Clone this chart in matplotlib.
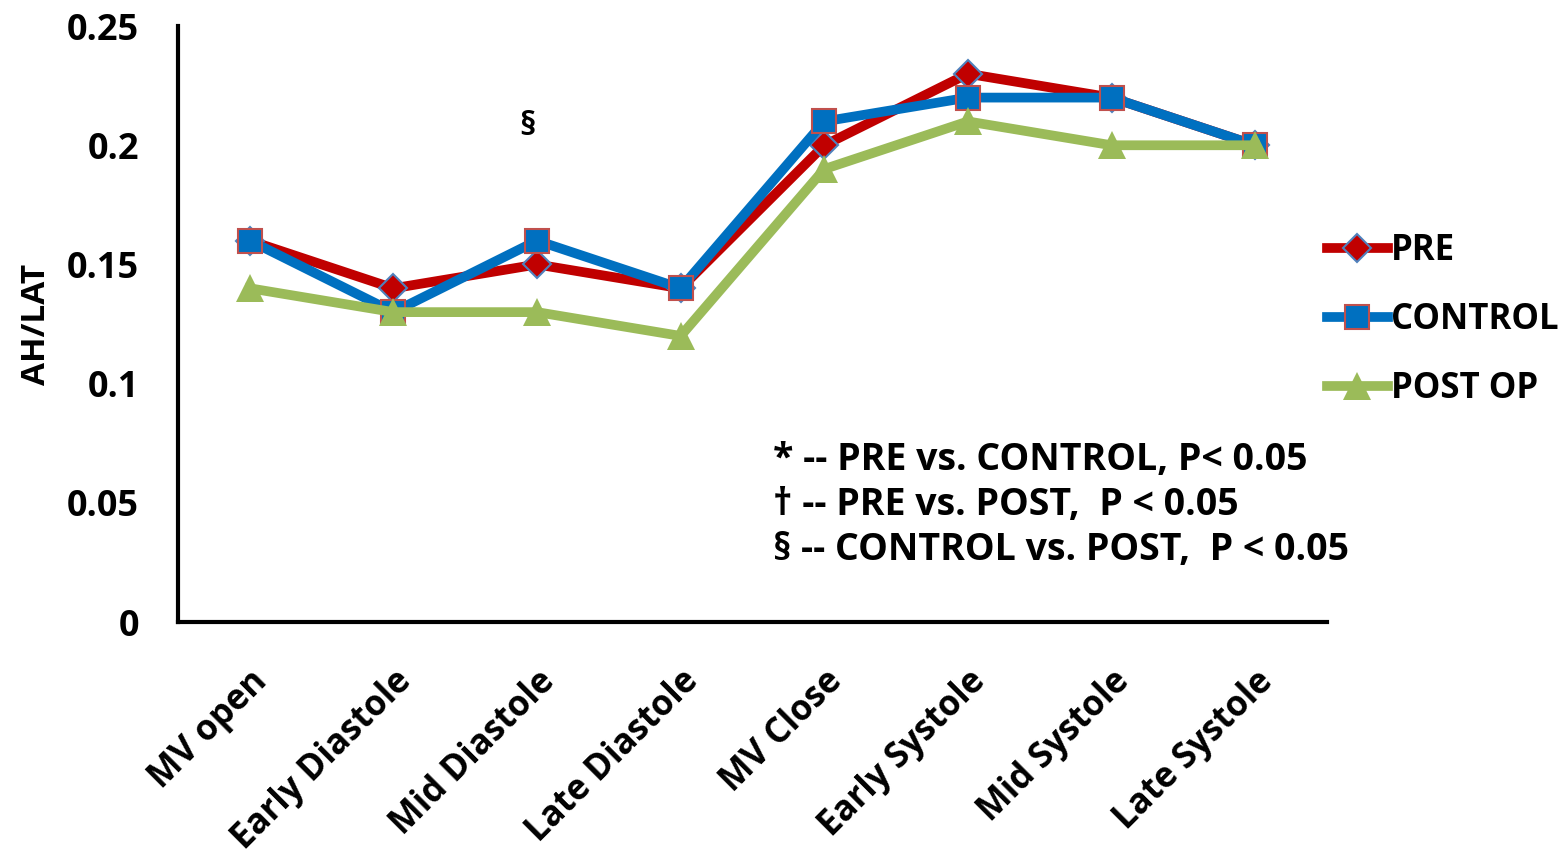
import matplotlib.pyplot as plt

plt.rcParams['font.family'] = ['Open Sans', 'DejaVu Sans']
plt.rcParams['font.weight'] = 'bold'
plt.rcParams['axes.labelweight'] = 'bold'

phases = ["MV open", "Early Diastole", "Mid Diastole", "Late Diastole",
          "MV Close", "Early Systole", "Mid Systole", "Late Systole"]
pre = [0.16, 0.14, 0.15, 0.14, 0.20, 0.23, 0.22, 0.20]
control = [0.16, 0.13, 0.16, 0.14, 0.21, 0.22, 0.22, 0.20]
post_op = [0.14, 0.13, 0.13, 0.12, 0.19, 0.21, 0.20, 0.20]
yticks = [0, 0.05, 0.1, 0.15, 0.2, 0.25]
ytick_labels = ["0", "0.05", "0.1", "0.15", "0.2", "0.25"]

fig = plt.figure(figsize=(15.67, 8.55), dpi=100)
ax = fig.add_axes([0.1136, 0.2725, 0.7332, 0.697])

x = list(range(len(phases)))
ax.plot(x, pre, color="#C00000", lw=7, marker="D", ms=14,
        mfc="#C00000", mec="#4F81BD", mew=1.5, label="PRE", zorder=3)
ax.plot(x, control, color="#0070C0", lw=7, marker="s", ms=17,
        mfc="#0070C0", mec="#C0504D", mew=1.5, label="CONTROL", zorder=4)
ax.plot(x, post_op, color="#9BBB59", lw=7, marker="^", ms=20,
        mfc="#9BBB59", mec="#9BBB59", mew=0, label="POST OP", zorder=5)

ax.set_xlim(-0.5, 7.5)
ax.set_ylim(0, 0.25)
ax.set_yticks(yticks)
ax.set_yticklabels(ytick_labels, fontsize=26)
ax.set_xticks(x)
ax.set_xticklabels(phases, rotation=45, ha="right", rotation_mode="anchor",
                   fontsize=25)
ax.tick_params(length=0)
ax.tick_params(axis="y", pad=28)
ax.tick_params(axis="x", pad=30)
ax.set_ylabel("AH/LAT", fontsize=24, labelpad=10)

for side in ["top", "right"]:
    ax.spines[side].set_visible(False)
for side in ["left", "bottom"]:
    ax.spines[side].set_linewidth(3)

ax.text(1.93, 0.2077, "§", fontsize=24, ha="center", va="center")
notes = ["* -- PRE vs. CONTROL, P< 0.05",
         "† -- PRE vs. POST,  P < 0.05",
         "§ -- CONTROL vs. POST,  P < 0.05"]
for i, note in enumerate(notes):
    fig.text(0.493, 1 - (460 + 45 * i) / 855, note, fontsize=27,
             ha="left", va="center")

fig.legend(loc="center left", bbox_to_anchor=(0.838, 0.626), frameon=False,
           fontsize=25, handlelength=1.75, handletextpad=0.08,
           labelspacing=0.95, borderaxespad=0)

fig.savefig("out.png", dpi=100)
